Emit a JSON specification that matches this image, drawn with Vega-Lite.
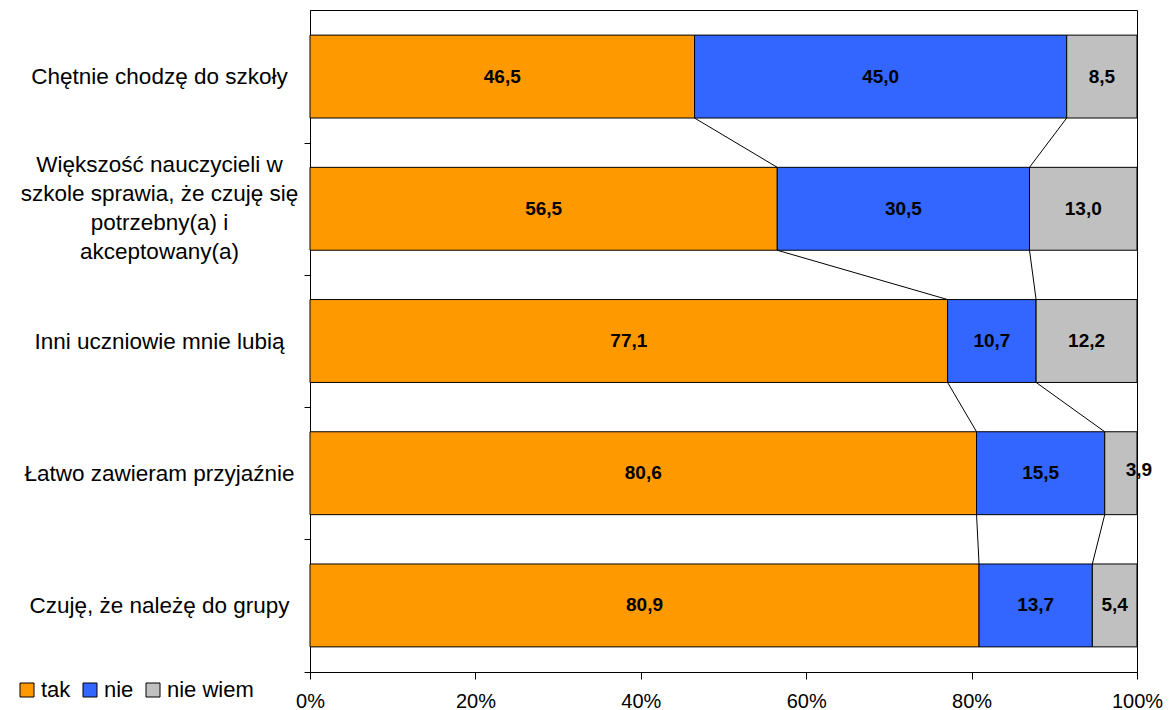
{
  "$schema": "https://vega.github.io/schema/vega-lite/v6.json",
  "width": 827,
  "height": 662,
  "autosize": {"type": "none"},
  "padding": {"left": 310, "top": 10, "right": 33, "bottom": 38},
  "config": {
    "font": "Liberation Sans",
    "view": {"stroke": "#000000", "strokeWidth": 1}
  },
  "datasets": {
    "bars": [
      {"q": "Chętnie chodzę do szkoły", "s": "tak", "o": 1, "v": 46.5},
      {"q": "Chętnie chodzę do szkoły", "s": "nie", "o": 2, "v": 45.0},
      {"q": "Chętnie chodzę do szkoły", "s": "nie wiem", "o": 3, "v": 8.5},
      {"q": "Większość nauczycieli w|szkole sprawia, że czuję się|potrzebny(a) i|akceptowany(a)", "s": "tak", "o": 1, "v": 56.5},
      {"q": "Większość nauczycieli w|szkole sprawia, że czuję się|potrzebny(a) i|akceptowany(a)", "s": "nie", "o": 2, "v": 30.5},
      {"q": "Większość nauczycieli w|szkole sprawia, że czuję się|potrzebny(a) i|akceptowany(a)", "s": "nie wiem", "o": 3, "v": 13.0},
      {"q": "Inni uczniowie mnie lubią", "s": "tak", "o": 1, "v": 77.1},
      {"q": "Inni uczniowie mnie lubią", "s": "nie", "o": 2, "v": 10.7},
      {"q": "Inni uczniowie mnie lubią", "s": "nie wiem", "o": 3, "v": 12.2},
      {"q": "Łatwo zawieram przyjaźnie", "s": "tak", "o": 1, "v": 80.6},
      {"q": "Łatwo zawieram przyjaźnie", "s": "nie", "o": 2, "v": 15.5},
      {"q": "Łatwo zawieram przyjaźnie", "s": "nie wiem", "o": 3, "v": 3.9},
      {"q": "Czuję, że należę do grupy", "s": "tak", "o": 1, "v": 80.9},
      {"q": "Czuję, że należę do grupy", "s": "nie", "o": 2, "v": 13.7},
      {"q": "Czuję, że należę do grupy", "s": "nie wiem", "o": 3, "v": 5.4}
    ],
    "conn": [
      {"from": "Chętnie chodzę do szkoły", "to": "Większość nauczycieli w|szkole sprawia, że czuję się|potrzebny(a) i|akceptowany(a)", "a": 46.5, "b": 56.5},
      {"from": "Chętnie chodzę do szkoły", "to": "Większość nauczycieli w|szkole sprawia, że czuję się|potrzebny(a) i|akceptowany(a)", "a": 91.5, "b": 87.0},
      {"from": "Większość nauczycieli w|szkole sprawia, że czuję się|potrzebny(a) i|akceptowany(a)", "to": "Inni uczniowie mnie lubią", "a": 56.5, "b": 77.1},
      {"from": "Większość nauczycieli w|szkole sprawia, że czuję się|potrzebny(a) i|akceptowany(a)", "to": "Inni uczniowie mnie lubią", "a": 87.0, "b": 87.8},
      {"from": "Inni uczniowie mnie lubią", "to": "Łatwo zawieram przyjaźnie", "a": 77.1, "b": 80.6},
      {"from": "Inni uczniowie mnie lubią", "to": "Łatwo zawieram przyjaźnie", "a": 87.8, "b": 96.1},
      {"from": "Łatwo zawieram przyjaźnie", "to": "Czuję, że należę do grupy", "a": 80.6, "b": 80.9},
      {"from": "Łatwo zawieram przyjaźnie", "to": "Czuję, że należę do grupy", "a": 96.1, "b": 94.6}
    ]
  },
  "layer": [
    {
      "data": {"name": "bars"},
      "transform": [
        {"stack": "v", "groupby": ["q"], "sort": [{"field": "o", "order": "ascending"}], "as": ["x0", "x1"]}
      ],
      "mark": {"type": "bar", "stroke": "#000000", "strokeWidth": 1},
      "encoding": {
        "y": {
          "field": "q",
          "type": "nominal",
          "sort": null,
          "scale": {"paddingInner": 0.373, "paddingOuter": 0.19},
          "axis": {
            "title": null,
            "tickSize": 6,
            "tickOffset": 66.2,
            "tickColor": "#000000",
            "domainColor": "#000000",
            "labelAlign": "center",
            "labelBaseline": "middle",
            "labelPadding": 145,
            "labelOffset": {"condition": {"test": "indexof(datum.value, '|') >= 0", "value": -110}, "value": -66.2},
            "labelFontSize": 22.5,
            "labelLineHeight": 29,
            "labelColor": "#000000",
            "labelLimit": 0,
            "labelExpr": "split(datum.label, '|')"
          }
        },
        "x": {
          "field": "x0",
          "type": "quantitative",
          "scale": {"domain": [0, 100], "nice": false},
          "axis": {
            "title": null,
            "values": [0, 20, 40, 60, 80, 100],
            "labelExpr": "datum.value + '%'",
            "grid": false,
            "tickSize": 7,
            "tickColor": "#000000",
            "domainColor": "#000000",
            "labelFontSize": 20,
            "labelColor": "#000000",
            "labelPadding": 12,
            "labelFlush": false
          }
        },
        "x2": {"field": "x1"},
        "color": {
          "field": "s",
          "type": "nominal",
          "scale": {"domain": ["tak", "nie", "nie wiem"], "range": ["#FF9900", "#3366FF", "#C0C0C0"]},
          "legend": {
            "title": null,
            "orient": "none",
            "legendX": -294,
            "legendY": 669,
            "direction": "horizontal",
            "padding": 0,
            "symbolType": "square",
            "symbolSize": 196,
            "symbolStrokeColor": "#000000",
            "symbolStrokeWidth": 1,
            "symbolOpacity": 1,
            "labelFontSize": 22,
            "labelColor": "#000000",
            "labelOffset": 3,
            "columnPadding": 8
          }
        }
      }
    },
    {
      "data": {"name": "conn"},
      "mark": {"type": "rule", "color": "#000000", "strokeWidth": 1},
      "encoding": {
        "x": {"field": "a", "type": "quantitative"},
        "x2": {"field": "b"},
        "y": {"field": "from", "type": "nominal", "sort": null, "bandPosition": 1},
        "y2": {"field": "to", "bandPosition": 0}
      }
    },
    {
      "data": {"name": "bars"},
      "transform": [
        {"stack": "v", "groupby": ["q"], "sort": [{"field": "o", "order": "ascending"}], "as": ["x0", "x1"]},
        {"calculate": "(datum.x0 + datum.x1) / 2", "as": "mid"},
        {"calculate": "replace(format(datum.v, '.1f'), '.', ',')", "as": "lab"},
        {"filter": "datum.v >= 4"}
      ],
      "mark": {"type": "text", "fontSize": 19, "fontWeight": "bold", "color": "#000000", "align": "center", "baseline": "middle"},
      "encoding": {
        "x": {"field": "mid", "type": "quantitative"},
        "y": {"field": "q", "type": "nominal", "sort": null},
        "text": {"field": "lab"}
      }
    },
    {
      "data": {"name": "bars"},
      "transform": [
        {"stack": "v", "groupby": ["q"], "sort": [{"field": "o", "order": "ascending"}], "as": ["x0", "x1"]},
        {"calculate": "(datum.x0 + datum.x1) / 2", "as": "mid"},
        {"calculate": "replace(format(datum.v, '.1f'), '.', ',')", "as": "lab"},
        {"filter": "datum.v < 4"}
      ],
      "mark": {"type": "text", "fontSize": 19, "fontWeight": "bold", "color": "#000000", "align": "center", "baseline": "middle", "dx": 18, "dy": -3},
      "encoding": {
        "x": {"field": "mid", "type": "quantitative"},
        "y": {"field": "q", "type": "nominal", "sort": null},
        "text": {"field": "lab"}
      }
    }
  ]
}
